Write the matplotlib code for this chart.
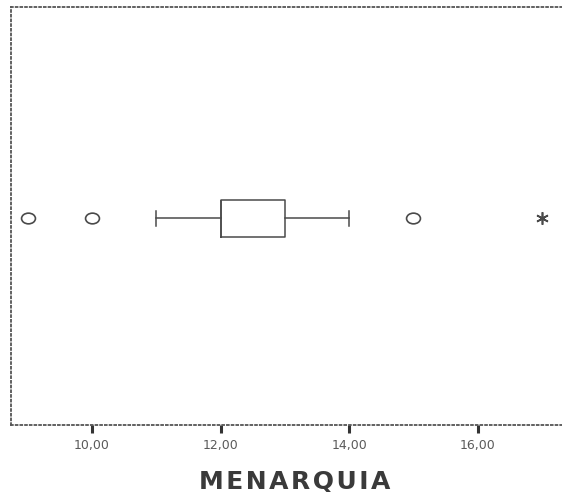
import matplotlib.pyplot as plt
from matplotlib.path import Path
from matplotlib.transforms import Affine2D

# SPSS-style boxplot of age at menarche (MENARQUIA)
whisker_low = 11.0
q1 = 12.0
median = 12.0
q3 = 13.0
whisker_high = 14.0
outliers = [9.0, 10.0, 15.0]
extremes = [17.0]
tick_values = [10, 12, 14, 16]
tick_labels = ["10,00", "12,00", "14,00", "16,00"]
x_title = "MENARQUIA"

LINE = "#4a4a4a"
TEXT = "#5a5a5a"

# outlier circles in the scan are a bit wider than tall
ellipse = Path.unit_circle().transformed(Affine2D().scale(1.3, 1.0))

fig = plt.figure(figsize=(5.62, 4.92), dpi=100)
ax = fig.add_axes([0.0196, 0.136, 0.98, 0.850])

stats = [{
    "whislo": whisker_low, "q1": q1, "med": median,
    "q3": q3, "whishi": whisker_high, "fliers": outliers,
}]
ax.bxp(
    stats, positions=[1], widths=0.088, capwidths=0.038, vert=False,
    boxprops=dict(color=LINE, linewidth=1.1),
    whiskerprops=dict(color=LINE, linewidth=1.1),
    capprops=dict(color=LINE, linewidth=1.1),
    medianprops=dict(color=LINE, linewidth=1.1),
    flierprops=dict(marker=ellipse, markerfacecolor="none", markeredgecolor=LINE,
                    markersize=10, markeredgewidth=1.2),
)
ax.plot(extremes, [1] * len(extremes), linestyle="none", marker=(6, 2, 0),
        markersize=9, color=LINE, markeredgewidth=1.2)

ax.set_xlim(8.74, 17.31)
ax.set_ylim(0.506, 1.506)
ax.set_yticks([])
ax.set_xticks(tick_values)
ax.set_xticklabels(tick_labels, color=TEXT, fontsize=9)
ax.tick_params(axis="x", direction="out", length=6, width=2.2, color="#333333", pad=4)

for side in ["left", "top", "bottom"]:
    ax.spines[side].set_linestyle((0, (1, 1.6)))
    ax.spines[side].set_color("#555555")
    ax.spines[side].set_linewidth(1.3)
ax.spines["right"].set_visible(False)

# title under the axis, letter-spaced like the SPSS output
fig.text(0.525, 1 - 488 / 492, "\u200a".join(x_title), fontsize=18,
         fontweight="bold", color="#3a3a3a", ha="center", va="baseline")

fig.savefig("out.png", dpi=100)
